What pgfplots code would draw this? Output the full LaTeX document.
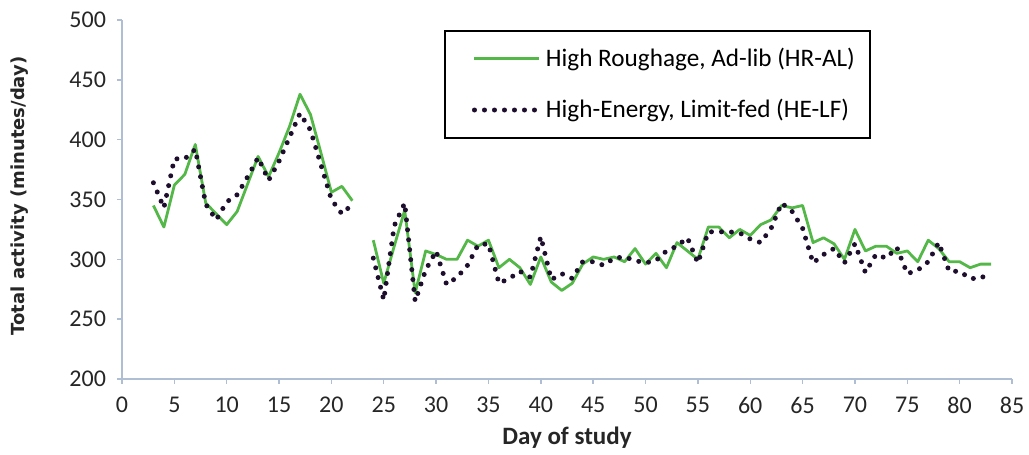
\documentclass[border=0pt]{standalone}
\usepackage{pgfplots}
\pgfplotsset{compat=1.18}
\usepackage{fontspec}
\setmainfont{Carlito}
\newfontfamily\ylabfont{DejaVu Sans}
\definecolor{hral}{RGB}{84,184,72}
\definecolor{helf}{RGB}{30,14,46}
\definecolor{axiscol}{RGB}{176,190,212}
\begin{document}
\begin{tikzpicture}
\begin{axis}[
  scale only axis, width=445pt, height=179.5pt,
  xmin=0, xmax=85, ymin=200, ymax=500,
  xtick={0,5,...,85}, ytick={200,250,...,500},
  axis x line=bottom, axis y line=left,
  axis line style={draw=axiscol, line width=0.8pt, -},
  tick style={draw=axiscol, line width=0.7pt},
  tick align=outside, major tick length=2.5pt,
  /pgf/number format/assume math mode=true,
  ticklabel style={font=\fontsize{12}{13}\selectfont, text=black!85},
  yticklabel style={xshift=-2pt},
  xticklabel style={yshift=-3pt},
  xlabel={\textbf{Day of study}},
  ylabel={{\ylabfont\bfseries Total activity (minutes/day)}},
  xlabel style={font=\fontsize{12.5}{14}\selectfont, text=black!85,
    at={(axis description cs:0.5,-0.164)}, anchor=center},
  ylabel style={font=\fontsize{9}{11}\selectfont, text=black!85,
    at={(axis description cs:-0.1146,0.51)}, anchor=center},
  unbounded coords=jump,
  legend cell align=left,
  legend style={at={(rel axis cs:0.362,0.972)}, anchor=north west,
    draw=black, line width=0.8pt, font=\fontsize{12.6}{14}\selectfont,
    inner xsep=5.5pt, inner ysep=6.5pt, row sep=11pt,
    nodes={inner xsep=2pt, inner ysep=2pt},
    /tikz/every even column/.append style={column sep=0pt}},
  legend image code/.code={\path (0pt,0pt); \draw[#1] (8pt,0pt) -- (40.5pt,0pt);},
  clip=false
]
\addplot[color=hral, line width=1.4pt, line join=round] coordinates {
(3,345)(4,327)(5,362)(6,371)(7,396)(8,347)(9,338)(10,329)(11,340)(12,363)
(13,386)(14,369)(15,389)(16,411)(17,438)(18,421)(19,389)(20,356)(21,361)(22,349)
(23,nan)
(24,316)(25,280)(26,311)(27,341)(28,272)(29,307)(30,304)(31,300)(32,300)(33,316)
(34,311)(35,316)(36,293)(37,300)(38,293)(39,279)(40,302)(41,281)(42,274)(43,280)
(44,296)(45,302)(46,300)(47,302)(48,298)(49,309)(50,296)(51,305)(52,293)(53,314)
(54,307)(55,300)(56,327)(57,327)(58,318)(59,325)(60,320)(61,329)(62,333)(63,345)
(64,343)(65,345)(66,314)(67,318)(68,313)(69,300)(70,325)(71,307)(72,311)(73,311)
(74,305)(75,307)(76,298)(77,316)(78,309)(79,298)(80,298)(81,293)(82,296)(83,296)
};
\addlegendentry{High Roughage, Ad-lib (HR-AL)}
\addplot[color=helf, line width=2.5pt, line cap=round, line join=round,
  dash pattern=on 0pt off 5pt] coordinates {
(3,364)(4,343)(5,384)(6,384)(7,392)(8,346)(9,333)(10,348)(11,354)(12,369)
(13,385)(14,366)(15,382)(16,402)(17,422)(18,408)(19,379)(20,350)(21,338)(22,346)
(23,nan)
(24,301)(25,266)(26,328)(27,347)(28,265)(29,291)(30,307)(31,279)(32,285)(33,295)
(34,312)(35,313)(36,280)(37,284)(38,290)(39,285)(40,319)(41,283)(42,288)(43,284)
(44,298)(45,298)(46,295)(47,301)(48,302)(49,299)(50,297)(51,299)(52,307)(53,311)
(54,318)(55,297)(56,323)(57,323)(58,323)(59,322)(60,317)(61,314)(62,326)(63,347)
(64,340)(65,326)(66,297)(67,304)(68,309)(69,297)(70,313)(71,289)(72,304)(73,301)
(74,310)(75,288)(76,291)(77,298)(78,314)(79,290)(80,290)(81,284)(82,284)(83,290)
};
\addlegendentry{High-Energy, Limit-fed (HE-LF)}
\coordinate (bl) at (rel axis cs:0,0);
\coordinate (tr) at (rel axis cs:1,1);
\end{axis}
\pgfresetboundingbox
\path[use as bounding box] ([xshift=-61pt,yshift=-38pt]bl) rectangle ([xshift=8.5pt,yshift=10pt]tr);
\end{tikzpicture}
\end{document}
